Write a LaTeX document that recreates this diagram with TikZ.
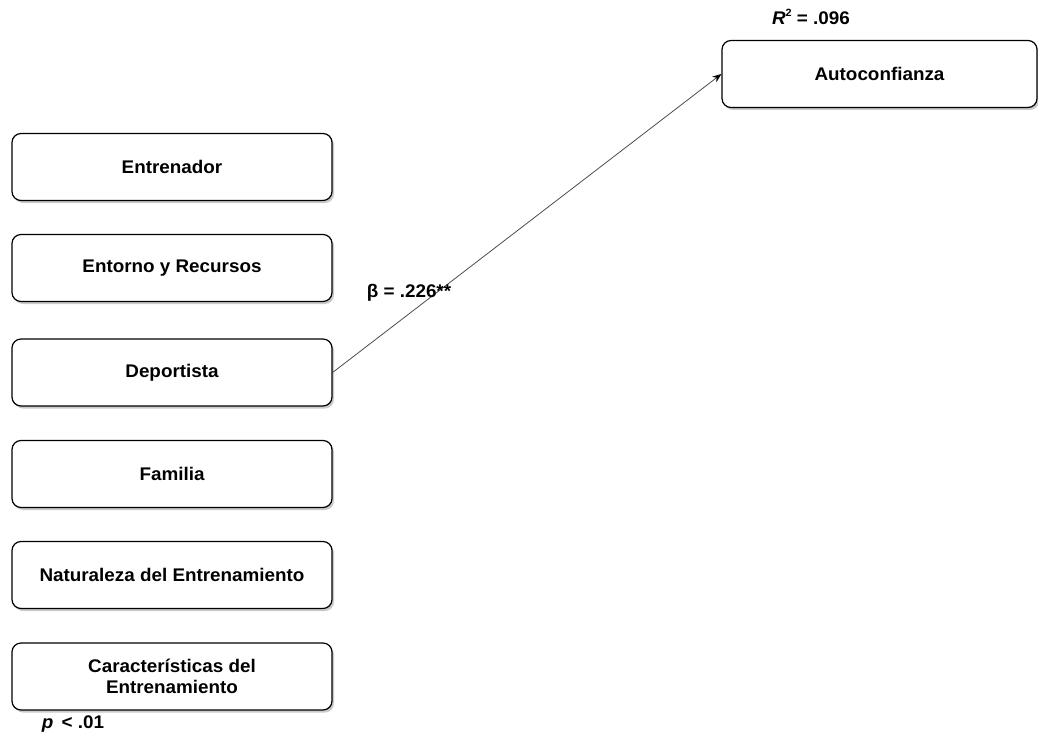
\documentclass[tikz,border=0pt]{standalone}
\usepackage{fontspec}
\setmainfont{Liberation Sans}[FakeStretch=1.03]
\usetikzlibrary{shadows,arrows.meta}
\begin{document}
\begin{tikzpicture}[x=1pt,y=-1pt,
  varbox/.style={draw=black, line width=1.2pt, rounded corners=9pt, fill=white,
    minimum width=320pt, minimum height=67pt, align=center,
    font=\fontsize{18.3}{20.5}\selectfont\bfseries,
    drop shadow={shadow xshift=2pt, shadow yshift=-2.5pt, opacity=0.35, fill=black!60}},
  lbl/.style={inner sep=0pt, font=\fontsize{18.3}{20.5}\selectfont\bfseries},
  path/.style={draw=black!70, line width=0.8pt, -{Stealth[length=9pt,width=7pt,black]}}]
\useasboundingbox (0,0) rectangle (1038,738);
% predictors
\node[varbox] (ent) at (172,167) {Entrenador};
\node[varbox] (rec) at (172,268) {Entorno y Recursos};
\node[varbox] (dep) at (172,372.5) {Deportista};
\node[varbox] (fam) at (172,474) {Familia};
\node[varbox] (nat) at (172,575) {Naturaleza del Entrenamiento};
\node[varbox] (car) at (172,676.5) {Características del\\Entrenamiento};
% outcome
\node[varbox, minimum width=315pt] (aut) at (879.5,74) {Autoconfianza};
% path
\draw[path] (dep.east) -- (aut.west);
% labels
\node[lbl] (r2) at (811,17) {\textit{R}\raisebox{0.45em}{\fontsize{10.5}{10.5}\selectfont 2} = .096};
\node[lbl] (beta) at (409,293) {β = .226**};
\node[lbl] (pval) at (73,724) {\textit{p}\, < .01};
\end{tikzpicture}
\end{document}
